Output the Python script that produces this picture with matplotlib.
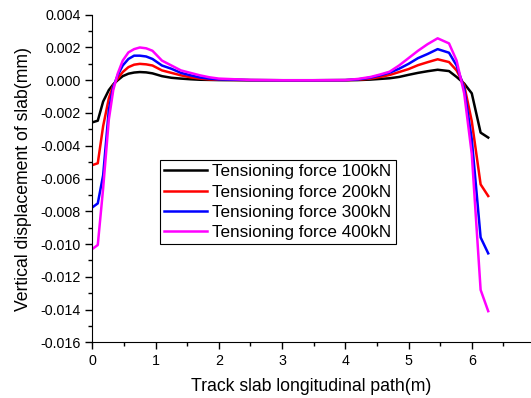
import numpy as np
import matplotlib
matplotlib.use("Agg")
import matplotlib.pyplot as plt
from matplotlib.ticker import MultipleLocator, FormatStrFormatter

plt.rcParams['font.family'] = ['Liberation Sans', 'DejaVu Sans']
plt.rcParams['axes.unicode_minus'] = False

# position along slab [m]
x = [0, 0.085, 0.17, 0.26, 0.33, 0.40, 0.48, 0.57, 0.66, 0.75, 0.85, 0.95,
     1.1, 1.25, 1.4, 1.55, 1.7, 1.85, 2.0, 2.5, 3.0, 3.5, 4.0, 4.2, 4.4,
     4.55, 4.7, 4.85, 5.0, 5.15, 5.3, 5.46, 5.64, 5.76, 5.88, 6.0, 6.14, 6.26]

# vertical displacement [mm] for each tensioning force
f100 = [-0.00257, -0.00247, -0.0013, -0.0006, -0.00025, 0.0, 0.00025, 0.0004,
        0.00047, 0.0005, 0.00048, 0.00042, 0.00025, 0.00015, 0.0001, 0.00006,
        0.00003, 0.00002, 0.00001, 0.0, 0.0, 0.0, 0.0, 0.00001, 0.00004,
        0.00008, 0.00012, 0.0002, 0.00033, 0.00045, 0.00055, 0.00064,
        0.00056, 0.0002, -0.0002, -0.0008, -0.0032, -0.0035]
f200 = [-0.00518, -0.00507, -0.0028, -0.0011, -0.0003, 0.0001, 0.0005, 0.0008,
        0.00095, 0.001, 0.00097, 0.0009, 0.0006, 0.00045, 0.0003, 0.00018,
        0.0001, 0.00005, 0.00003, 0.00001, 0.0, 0.0, 0.00001, 0.00003, 0.0001,
        0.0002, 0.00032, 0.0005, 0.00068, 0.00092, 0.0011, 0.00128,
        0.00111, 0.0006, -0.0003, -0.0025, -0.00636, -0.00707]
f300 = [-0.00776, -0.00752, -0.0058, -0.0018, -0.0004, 0.0003, 0.0009, 0.0013,
        0.0015, 0.0015, 0.00145, 0.0013, 0.0009, 0.0007, 0.00045, 0.0003,
        0.00017, 0.0001, 0.00005, 0.00001, 0.0, 0.0, 0.00001, 0.00005, 0.00016,
        0.0003, 0.00046, 0.0007, 0.001, 0.00135, 0.0016, 0.0019,
        0.00168, 0.0009, -0.0005, -0.0036, -0.0096, -0.01057]
f400 = [-0.0103, -0.01006, -0.0066, -0.0024, -0.0006, 0.0004, 0.0012, 0.0017,
        0.0019, 0.002, 0.00195, 0.0018, 0.0012, 0.0009, 0.0006, 0.00045,
        0.0003, 0.00018, 0.0001, 0.00002, 0.0, 0.0, 0.00001, 0.00008, 0.0002,
        0.00035, 0.00052, 0.0009, 0.00135, 0.0018, 0.0022, 0.00256,
        0.00225, 0.0012, -0.0008, -0.0045, -0.0128, -0.0141]

labels = ["Tensioning force 100kN", "Tensioning force 200kN",
          "Tensioning force 300kN", "Tensioning force 400kN"]
colors = ["black", "red", "blue", "magenta"]

fig = plt.figure(figsize=(5.31, 3.98), dpi=100)
ax = fig.add_axes([0.174, 0.14, 0.824, 0.823])

for y, lab, c in zip([f100, f200, f300, f400], labels, colors):
  ax.plot(x, y, color=c, lw=1.8, label=lab)

ax.set_xlim(0, 6.92)
ax.set_ylim(-0.016, 0.004)
ax.xaxis.set_major_locator(MultipleLocator(1))
ax.xaxis.set_minor_locator(MultipleLocator(0.5))
ax.yaxis.set_major_locator(MultipleLocator(0.002))
ax.yaxis.set_minor_locator(MultipleLocator(0.001))
ax.yaxis.set_major_formatter(FormatStrFormatter('%.3f'))

for s in ['top', 'right']:
  ax.spines[s].set_visible(False)
ax.tick_params(which='major', direction='out', length=5, width=1, labelsize=10.3)
ax.tick_params(which='minor', direction='out', length=3, width=1)

ax.set_xlabel("Track slab longitudinal path(m)", fontsize=12.7, labelpad=7)
ax.set_ylabel("Vertical displacement of slab(mm)", fontsize=12.7, labelpad=6)

leg = ax.legend(loc='upper left', bbox_to_anchor=(0.155, 0.556), borderaxespad=0,
                fontsize=12.3, fancybox=False, framealpha=1, edgecolor='black',
                handlelength=2.5, handletextpad=0.3, labelspacing=0.3,
                borderpad=0.25)
leg.get_frame().set_linewidth(0.8)

fig.savefig("out.png", dpi=100)
